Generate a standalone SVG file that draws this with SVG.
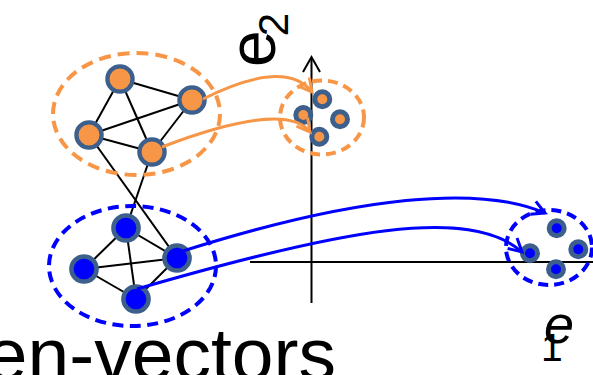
<svg xmlns="http://www.w3.org/2000/svg" width="593" height="375" viewBox="0 0 593 375">
  <style>
    .edge { stroke: #000; stroke-width: 2; fill: none; }
    .axis { stroke: #000; stroke-width: 2; fill: none; }
    .nodeO { fill: #F79646; stroke: #3D5F8C; stroke-width: 4.3; }
    .nodeB { fill: #0000FF; stroke: #3D5F8C; stroke-width: 4.5; }
    .dotO { fill: #F79646; stroke: #3D5F8C; stroke-width: 5; }
    .dotB { fill: #0000FF; stroke: #3D5F8C; stroke-width: 5; }
    .ringO { fill: none; stroke: #F79646; stroke-width: 4; stroke-dasharray: 12 7; }
    .ringB { fill: none; stroke: #0000FF; stroke-width: 4; stroke-dasharray: 11 6.5; }
    .ringOs { fill: none; stroke: #F79646; stroke-width: 4; stroke-dasharray: 10 6; }
    .ringBs { fill: none; stroke: #0000FF; stroke-width: 4; stroke-dasharray: 10 6; }
    .linkO { fill: none; stroke: #F79646; stroke-width: 3; }
    .linkB { fill: none; stroke: #0000FF; stroke-width: 3; }
    .label { font-family: "Liberation Sans", Arial, sans-serif; fill: #000; }
  </style>
  <defs>
    <marker id="arrO" markerUnits="userSpaceOnUse" markerWidth="20" markerHeight="20" viewBox="-16 -10 20 20" refX="0" refY="0" orient="auto">
      <path d="M-13,-7 L0,0 L-13,7" fill="none" stroke="#F79646" stroke-width="3"/>
    </marker>
    <marker id="arrB" markerUnits="userSpaceOnUse" markerWidth="20" markerHeight="20" viewBox="-16 -10 20 20" refX="0" refY="0" orient="auto">
      <path d="M-13,-7 L0,0 L-13,7" fill="none" stroke="#0000FF" stroke-width="3"/>
    </marker>
  </defs>

  <!-- coordinate axes -->
  <g id="axes">
    <line class="axis" x1="311.5" y1="59" x2="311.5" y2="303"/>
    <path class="axis" d="M303,72 L311.5,57 L320,72"/>
    <line class="axis" x1="250" y1="262" x2="593" y2="262"/>
  </g>

  <!-- graph edges -->
  <g id="edges">
    <line class="edge" x1="120" y1="79" x2="192" y2="100"/>
    <line class="edge" x1="120" y1="79" x2="89" y2="135"/>
    <line class="edge" x1="120" y1="79" x2="152" y2="152"/>
    <line class="edge" x1="192" y1="100" x2="89" y2="135"/>
    <line class="edge" x1="192" y1="100" x2="152" y2="152"/>
    <line class="edge" x1="89" y1="135" x2="152" y2="152"/>
    <line class="edge" x1="89" y1="135" x2="177" y2="258"/>
    <line class="edge" x1="152" y1="152" x2="126" y2="228"/>
    <line class="edge" x1="126" y1="228" x2="84" y2="269"/>
    <line class="edge" x1="126" y1="228" x2="177" y2="258"/>
    <line class="edge" x1="126" y1="228" x2="136" y2="299"/>
    <line class="edge" x1="84" y1="269" x2="177" y2="258"/>
    <line class="edge" x1="84" y1="269" x2="136" y2="299"/>
    <line class="edge" x1="177" y1="258" x2="136" y2="299"/>
  </g>

  <!-- orange community -->
  <g id="cluster-orange">
    <ellipse class="ringO" cx="136.5" cy="114" rx="83.5" ry="61"/>
    <circle class="nodeO" cx="120" cy="79" r="12.6"/>
    <circle class="nodeO" cx="192" cy="100" r="12.6"/>
    <circle class="nodeO" cx="89" cy="135" r="12.6"/>
    <circle class="nodeO" cx="152" cy="152" r="12.6"/>
  </g>

  <!-- blue community -->
  <g id="cluster-blue">
    <ellipse class="ringB" cx="132.5" cy="266" rx="83.5" ry="60"/>
    <circle class="nodeB" cx="126" cy="228" r="12.6"/>
    <circle class="nodeB" cx="177" cy="258" r="12.6"/>
    <circle class="nodeB" cx="84" cy="269" r="12.6"/>
    <circle class="nodeB" cx="136" cy="299" r="12.6"/>
  </g>

  <!-- embedded orange points -->
  <g id="embed-orange">
    <ellipse class="ringOs" cx="322" cy="117.5" rx="42" ry="37"/>
    <circle class="dotO" cx="322.3" cy="99.3" r="7.5"/>
    <circle class="dotO" cx="303.3" cy="115" r="7.5"/>
    <circle class="dotO" cx="340" cy="119.3" r="7.5"/>
    <circle class="dotO" cx="319.3" cy="136.7" r="7.5"/>
  </g>

  <!-- embedded blue points -->
  <g id="embed-blue">
    <ellipse class="ringBs" cx="549" cy="247.5" rx="43" ry="37.5"/>
    <circle class="dotB" cx="556.7" cy="228.3" r="7.5"/>
    <circle class="dotB" cx="578.3" cy="249.3" r="7.5"/>
    <circle class="dotB" cx="530" cy="253.3" r="7.5"/>
    <circle class="dotB" cx="556" cy="269.3" r="7.5"/>
  </g>

  <!-- mapping arrows -->
  <g id="connectors">
    <path class="linkO" d="M203,99 Q285,58 312,92" marker-end="url(#arrO)"/>
    <path class="linkO" d="M162,147 Q285,100 310,132" marker-end="url(#arrO)"/>
    <path class="linkB" d="M183,251 C360,195 480,185 545,213" marker-end="url(#arrB)"/>
    <path class="linkB" d="M137,289 C340,230 470,205 522,252" marker-end="url(#arrB)"/>
  </g>

  <!-- labels -->
  <g id="labels">
    <text class="label" transform="translate(275,67) rotate(-90)" font-size="66">e<tspan font-size="42" dy="13" dx="-6">2</tspan></text>
    <text class="label" x="541" y="343" font-size="54" font-style="italic">e<tspan font-size="39" font-style="normal" dx="-33" dy="18">1</tspan></text>
    <text class="label" x="336" y="380" font-size="75" text-anchor="end">en-vectors</text>
  </g>
</svg>
